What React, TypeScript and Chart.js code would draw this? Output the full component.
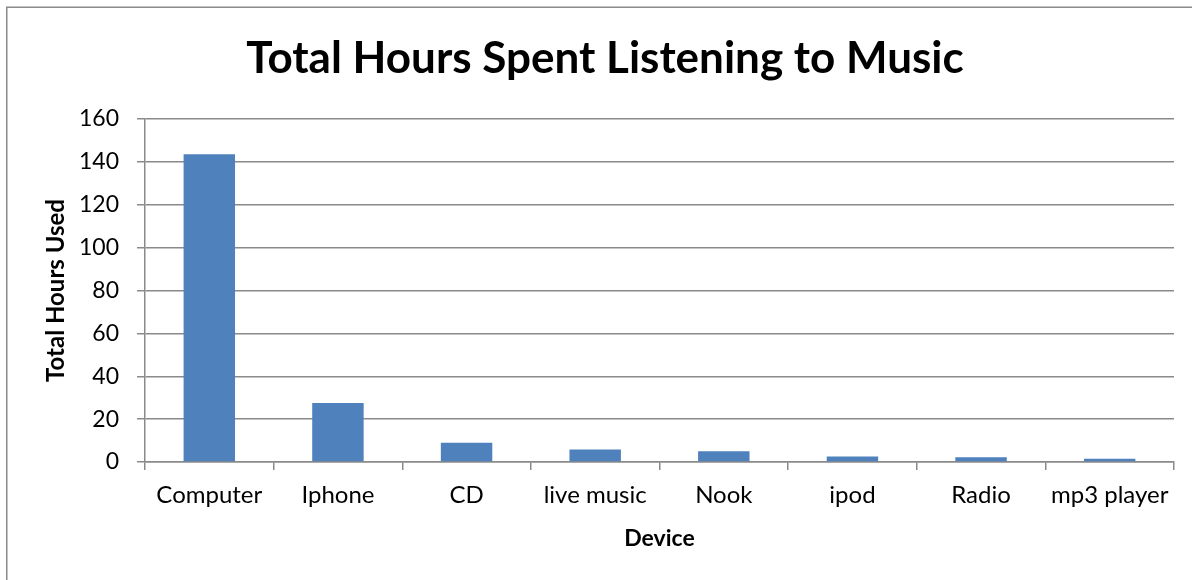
import React, { useEffect, useRef } from "react";
import { Chart, registerables } from "chart.js";

Chart.register(...registerables);

const categories = ["Computer", "Iphone", "CD", "live music", "Nook", "ipod", "Radio", "mp3 player"];
const hoursUsed = [143.5, 27.5, 9, 5.8, 5, 2.6, 2.2, 1.5];
const yTicks = [0, 20, 40, 60, 80, 100, 120, 140, 160];
const chartTitle = "Total Hours Spent Listening to Music";
const yTitle = "Total Hours Used";
const xTitle = "Device";

const FONT = "Lato, 'Noto Sans', sans-serif";
const GRID = "#8a8a8a";

const framePlugin = {
  id: "frame",
  beforeDraw(chart: any) {
    const ctx = chart.ctx;
    ctx.save();
    ctx.fillStyle = "#ffffff";
    ctx.fillRect(0, 0, chart.width, chart.height);
    ctx.strokeStyle = "#8a8a8a";
    ctx.lineWidth = 1.5;
    ctx.strokeRect(6.75, 7.25, chart.width + 20, chart.height + 20);
    ctx.restore();
  },
  afterDraw(chart: any) {
    const ctx = chart.ctx;
    ctx.save();
    ctx.fillStyle = "#000";
    ctx.font = `bold 44px ${FONT}`;
    ctx.textAlign = "center";
    ctx.textBaseline = "alphabetic";
    ctx.fillText(chartTitle, 605, 73);
    ctx.restore();
  },
};

export default function App() {
  const ref = useRef<HTMLCanvasElement | null>(null);
  useEffect(() => {
    if (!ref.current) return;
    const chart = new Chart(ref.current, {
      type: "bar",
      data: {
        labels: categories,
        datasets: [
          {
            data: hoursUsed,
            backgroundColor: "#4F81BD",
            borderWidth: 0,
            categoryPercentage: 1,
            barPercentage: 0.4,
          },
        ],
      },
      plugins: [framePlugin],
      options: {
        animation: false,
        responsive: false,
        maintainAspectRatio: false,
        layout: { padding: { left: 0, right: 18, top: 119, bottom: 0 } },
        plugins: {
          legend: { display: false },
          tooltip: { enabled: false },
          title: { display: false },
        },
        scales: {
          x: {
            afterFit(scale: any) {
              scale.height = 118;
            },
            grid: {
              drawOnChartArea: false,
              drawTicks: true,
              tickLength: 8,
              color: GRID,
              lineWidth: 1.5,
              offset: true,
            },
            border: { display: true, color: GRID, width: 1.5 },
            ticks: {
              color: "#000",
              font: { family: FONT, size: 24 },
              padding: 11,
              maxRotation: 0,
              autoSkip: false,
            },
            title: {
              display: true,
              text: xTitle,
              color: "#000",
              font: { family: FONT, size: 23, weight: "bold", lineHeight: 1.2 },
              padding: { top: 0, bottom: 28 },
            },
          },
          y: {
            min: 0,
            max: 160,
            afterFit(scale: any) {
              scale.width = 145;
            },
            afterBuildTicks(scale: any) {
              scale.ticks = yTicks.map((v) => ({ value: v }));
            },
            grid: {
              color: GRID,
              lineWidth: 1.5,
              drawTicks: true,
              tickLength: 8,
            },
            border: { display: true, color: GRID, width: 1.5 },
            ticks: {
              color: "#000",
              font: { family: FONT, size: 23 },
              padding: 18,
            },
            title: {
              display: true,
              text: yTitle,
              color: "#000",
              font: { family: FONT, size: 24, weight: "bold", lineHeight: 1.2 },
              padding: { top: 42, bottom: 0 },
            },
          },
        },
      },
    } as any);
    return () => chart.destroy();
  }, []);
  return (
    <div style={{ position: "fixed", left: 0, top: 0, width: 1192, height: 580, background: "#fff" }}>
      <canvas ref={ref} width={1192} height={580} style={{ display: "block", width: 1192, height: 580 }} />
    </div>
  );
}
